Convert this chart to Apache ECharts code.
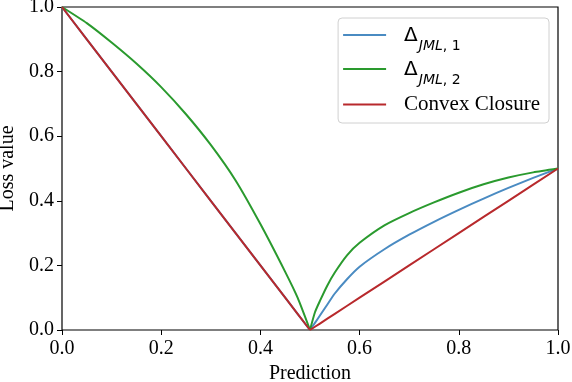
<!DOCTYPE html>
<html>
<head>
<meta charset="utf-8">
<script src="https://cdn.jsdelivr.net/npm/echarts@6/dist/echarts.min.js"></script>
<style>
  html, body { margin: 0; padding: 0; background: #fff; }
  #chart { width: 572px; height: 382px; }
</style>
</head>
<body>
<div id="chart"></div>
<script>
// values, left half (0 .. 0.5) and right half (0.5 .. 1)
var predLeft  = [0, 0.05, 0.1, 0.15, 0.2, 0.25, 0.3, 0.35, 0.4, 0.45, 0.475, 0.5];
var predRight = [0.5, 0.51, 0.52, 0.535, 0.55, 0.575, 0.6, 0.65, 0.7, 0.75, 0.8, 0.85, 0.9, 0.95, 1.0];

var jml1Left  = [1, 0.9, 0.8, 0.7, 0.6, 0.5, 0.4, 0.3, 0.2, 0.1, 0.05, 0];
var jml1Right = [0, 0.022, 0.045, 0.079, 0.113, 0.158, 0.196, 0.25, 0.295, 0.335, 0.372, 0.407, 0.44, 0.471, 0.5];

var jml2Left  = [1, 0.95, 0.89, 0.825, 0.752, 0.668, 0.573, 0.463, 0.328, 0.18, 0.1, 0];
var jml2Right = [0, 0.055, 0.09, 0.138, 0.178, 0.232, 0.27, 0.324, 0.362, 0.395, 0.425, 0.451, 0.472, 0.488, 0.5];

var convexLeft  = [1, 0.9, 0.8, 0.7, 0.6, 0.5, 0.4, 0.3, 0.2, 0.1, 0.05, 0];
var convexRight = [0, 0.01, 0.02, 0.035, 0.05, 0.075, 0.1, 0.15, 0.2, 0.25, 0.3, 0.35, 0.4, 0.45, 0.5];

var BLUE = '#4a8bc2', GREEN = '#2a9a2e', RED = '#b8292c';

function pairs(xs, ys) {
	var out = [];
	for (var i = 0; i < xs.length; i++) out.push([xs[i], ys[i]]);
	return out;
}

function half(name, color, xs, ys, smooth) {
	return {
		name: name,
		type: 'line',
		data: pairs(xs, ys),
		showSymbol: false,
		smooth: smooth ? 0.2 : false,
		lineStyle: { color: color, width: 2, join: 'round' },
		itemStyle: { color: color },
		z: 2
	};
}

var serif = '"Liberation Serif", "DejaVu Serif", serif';
var NAME1 = 'jml1', NAME2 = 'jml2', NAME3 = 'Convex Closure';

var chart = echarts.init(document.getElementById('chart'));
var option = {
	animation: false,
	grid: {
		left: 62, right: 14, top: 7, bottom: 52,
		outerBoundsMode: 'none',
		show: true, borderColor: '#000', borderWidth: 1.2
	},
	xAxis: {
		type: 'value', min: 0, max: 1, interval: 0.2,
		name: 'Prediction', nameLocation: 'middle', nameGap: 31,
		nameTextStyle: { fontFamily: serif, fontSize: 20, color: '#000' },
		axisLine: { show: false },
		axisTick: { show: true, length: 5, lineStyle: { color: '#000', width: 1 } },
		axisLabel: {
			fontFamily: serif, fontSize: 20, color: '#000', margin: 9,
			formatter: function (v) { return v.toFixed(1); }
		},
		splitLine: { show: false }
	},
	yAxis: {
		type: 'value', min: 0, max: 1, interval: 0.2,
		name: 'Loss value', nameLocation: 'middle', nameGap: 40,
		nameTextStyle: { fontFamily: serif, fontSize: 20, color: '#000' },
		axisLine: { show: false },
		axisTick: { show: true, length: 5, lineStyle: { color: '#000', width: 1 } },
		axisLabel: {
			fontFamily: serif, fontSize: 20, color: '#000', margin: 8,
			formatter: function (v) { return v.toFixed(1); }
		},
		splitLine: { show: false }
	},
	legend: {
		right: 23, top: 18,
		orient: 'vertical',
		data: [NAME1, NAME2, NAME3],
		itemWidth: 43, itemHeight: 2, itemGap: 7,
		icon: 'rect',
		backgroundColor: '#fff',
		borderColor: '#d0d0d0', borderWidth: 1, borderRadius: 4,
		padding: [8, 9, 8, 5],
		formatter: function (name) {
			if (name === NAME1) return '{d|Δ}{s|JML}{n|, 1}';
			if (name === NAME2) return '{d|Δ}{s|JML}{n|, 2}';
			return name;
		},
		textStyle: {
			fontFamily: serif, fontSize: 21, color: '#000', padding: [0, 0, 0, 13],
			rich: {
				d: { fontFamily: 'DejaVu Sans', fontSize: 20, color: '#000', verticalAlign: 'bottom', lineHeight: 22 },
				s: { fontFamily: 'DejaVu Sans', fontSize: 14, fontStyle: 'italic', color: '#000', verticalAlign: 'bottom', lineHeight: 22, padding: [0, 0, -7, 1] },
				n: { fontFamily: 'DejaVu Sans', fontSize: 14, color: '#000', verticalAlign: 'bottom', lineHeight: 22, padding: [0, 0, -7, 0] }
			}
		}
	},
	series: [
		half(NAME1, BLUE, predLeft, jml1Left, false),
		half(NAME1, BLUE, predRight, jml1Right, true),
		half(NAME2, GREEN, predLeft, jml2Left, true),
		half(NAME2, GREEN, predRight, jml2Right, true),
		half(NAME3, RED, predLeft, convexLeft, false),
		half(NAME3, RED, predRight, convexRight, false)
	]
};
chart.setOption(option);
</script>
</body>
</html>
